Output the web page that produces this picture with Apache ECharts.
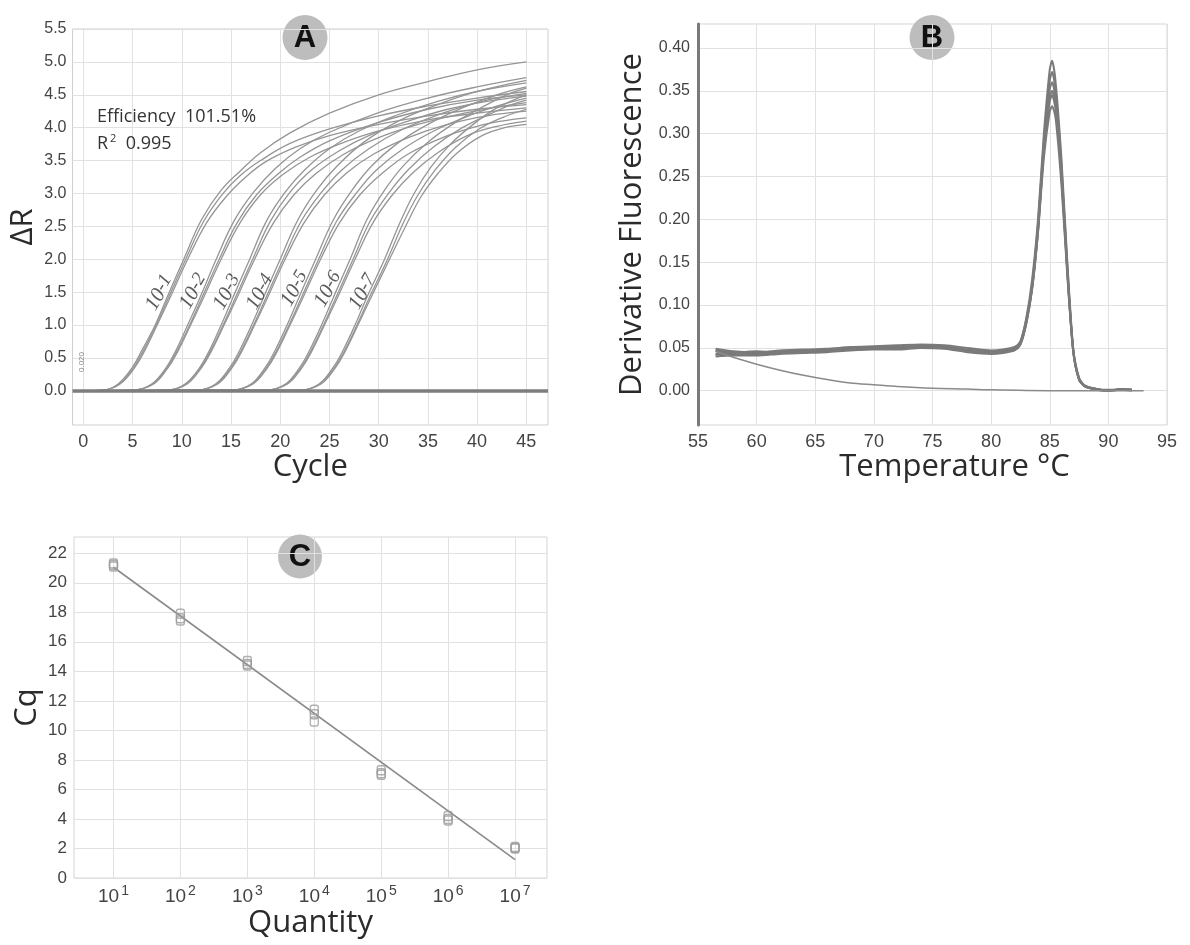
<!DOCTYPE html>
<html><head><meta charset="utf-8">
<script src="https://cdn.jsdelivr.net/npm/echarts@6/dist/echarts.min.js"></script>
<style>html,body{margin:0;padding:0;background:#fff}#c{width:1190px;height:945px}</style>
</head><body><div id="c"></div>
<script>
// ---------- Panel A: amplification plot ----------
const cycleTicks = [0,5,10,15,20,25,30,35,40,45];
const deltaRTicks = [0,0.5,1,1.5,2,2.5,3,3.5,4,4.5,5,5.5];
const dilutionNames = ['-1','-2','-3','-4','-5','-6','-7'];
const dilutionLabelCycle = [7.75,11.2,14.65,18.0,21.5,24.9,28.4];
const dilutionLabelDR = [1.49,1.51,1.5,1.5,1.55,1.54,1.5];

const amp1a = [[0,0],[2,0.01],[3.5,0.1],[5,0.36],[6,0.63],[7.3,1.0],[8.5,1.42],[10.2,2.0],[12,2.6],[14,3.05],[16,3.35],[18,3.62],[21,3.92],[25,4.22],[30,4.5],[35,4.7],[40,4.88],[45,5.0]];
const amp1b = [[0,0],[2,0.01],[3.6,0.1],[5.1,0.35],[6.1,0.61],[7.4,1.0],[8.6,1.4],[10.4,2.0],[12.2,2.57],[14.2,3.0],[16,3.28],[18,3.5],[21,3.76],[25,3.98],[30,4.18],[35,4.33],[40,4.45],[45,4.55]];
const amp1c = [[0,0],[2,0.01],[3.7,0.1],[5.2,0.35],[6.2,0.6],[7.5,1.0],[8.7,1.38],[10.6,2.0],[12.5,2.55],[14.5,2.95],[16.5,3.25],[18.5,3.48],[21.5,3.7],[25,3.88],[30,4.05],[35,4.18],[40,4.28],[45,4.35]];
const amp2a = [[0,0],[5,0.01],[6.9,0.1],[8.4,0.35],[9.4,0.61],[10.6,1.0],[11.8,1.4],[13.5,2.0],[15.3,2.58],[17.3,3.02],[19.5,3.38],[22,3.68],[25,3.93],[30,4.23],[35,4.45],[40,4.62],[45,4.76]];
const amp2b = [[0,0],[5,0.01],[7,0.1],[8.5,0.35],[9.5,0.6],[10.8,1.0],[12,1.4],[13.8,2.0],[15.6,2.55],[17.6,2.98],[19.8,3.3],[22,3.55],[25,3.8],[30,4.08],[35,4.28],[40,4.42],[45,4.5]];
const amp2c = [[0,0],[5,0.01],[7.1,0.1],[8.6,0.35],[9.6,0.6],[10.9,1.0],[12.1,1.38],[14,2.0],[15.9,2.55],[18,2.98],[20.2,3.28],[23,3.55],[26,3.75],[30,3.95],[35,4.12],[40,4.22],[45,4.3]];
const amp3a = [[0,0],[8.5,0.01],[10.3,0.1],[11.8,0.35],[12.8,0.61],[14,1.0],[15.2,1.42],[16.9,2.0],[18.6,2.58],[20.5,3.02],[22.5,3.36],[25,3.68],[28,3.95],[32,4.2],[36,4.4],[40,4.55],[45,4.68]];
const amp3b = [[0,0],[8.5,0.01],[10.4,0.1],[11.9,0.35],[12.9,0.6],[14.2,1.0],[15.4,1.4],[17.2,2.0],[19,2.58],[21,3.02],[23.2,3.36],[26,3.65],[29,3.88],[33,4.1],[37,4.28],[41,4.4],[45,4.48]];
const amp3c = [[0,0],[8.5,0.01],[10.5,0.1],[12,0.35],[13,0.6],[14.3,1.0],[15.5,1.38],[17.4,2.0],[19.3,2.55],[21.4,2.98],[23.6,3.3],[26.5,3.6],[30,3.85],[34,4.05],[38,4.2],[41.5,4.3],[45,4.38]];
const amp4a = [[0,0],[11.5,0.01],[13.4,0.1],[14.9,0.36],[15.9,0.62],[17.1,1.0],[18.3,1.42],[20,2.0],[21.8,2.6],[23.7,3.05],[25.8,3.42],[28.5,3.78],[32,4.1],[36,4.35],[40,4.55],[45,4.72]];
const amp4b = [[0,0],[11.5,0.01],[13.5,0.1],[15,0.35],[16,0.6],[17.3,1.0],[18.5,1.4],[20.3,2.0],[22.1,2.57],[24.1,3.0],[26.2,3.35],[29,3.68],[32.5,3.98],[36.5,4.22],[40.5,4.4],[45,4.52]];
const amp4c = [[0,0],[11.5,0.01],[13.6,0.1],[15.1,0.35],[16.1,0.6],[17.4,1.0],[18.6,1.38],[20.5,2.0],[22.4,2.55],[24.5,2.98],[26.8,3.32],[29.5,3.6],[33,3.85],[37,4.05],[41,4.18],[45,4.25]];
const amp5a = [[0,0],[15,0.01],[17,0.1],[18.5,0.36],[19.5,0.62],[20.7,1.0],[21.9,1.42],[23.6,2.0],[25.4,2.6],[27.3,3.05],[29.3,3.42],[31.8,3.75],[35,4.05],[38.5,4.3],[42,4.5],[45,4.62]];
const amp5b = [[0,0],[15,0.01],[17.1,0.1],[18.6,0.35],[19.6,0.6],[20.9,1.0],[22.1,1.4],[23.9,2.0],[25.7,2.57],[27.7,3.0],[29.8,3.36],[32.5,3.68],[36,3.98],[39.5,4.2],[42.5,4.35],[45,4.45]];
const amp5c = [[0,0],[15,0.01],[17.2,0.1],[18.7,0.35],[19.7,0.6],[21,1.0],[22.2,1.38],[24.1,2.0],[26,2.55],[28.1,2.98],[30.3,3.3],[33,3.6],[36.5,3.85],[40,4.02],[42.5,4.1],[45,4.15]];
const amp6a = [[0,0],[18.5,0.01],[20.5,0.1],[22,0.36],[23,0.62],[24.2,1.0],[25.4,1.42],[27.1,2.0],[28.8,2.6],[30.6,3.05],[32.5,3.42],[35,3.78],[38,4.1],[41,4.35],[43,4.5],[45,4.6]];
const amp6b = [[0,0],[18.5,0.01],[20.6,0.1],[22.1,0.35],[23.1,0.6],[24.4,1.0],[25.6,1.4],[27.4,2.0],[29.1,2.57],[31,3.0],[33,3.36],[35.5,3.7],[38.5,4.0],[41.5,4.22],[43.5,4.35],[45,4.42]];
const amp6c = [[0,0],[18.5,0.01],[20.7,0.1],[22.2,0.35],[23.2,0.6],[24.5,1.0],[25.7,1.38],[27.6,2.0],[29.4,2.55],[31.4,2.98],[33.5,3.32],[36,3.62],[39,3.88],[42,4.02],[45,4.1]];
const amp7a = [[0,0],[22,0.01],[23.9,0.1],[25.4,0.36],[26.4,0.62],[27.6,1.0],[28.8,1.42],[30.6,2.0],[32.2,2.57],[33.6,3.0],[35.3,3.4],[37.3,3.75],[39.6,4.05],[42,4.3],[45,4.5]];
const amp7b = [[0,0],[22,0.01],[24,0.1],[25.5,0.35],[26.5,0.6],[27.8,1.0],[29,1.4],[30.9,2.0],[32.5,2.55],[34,2.98],[35.7,3.35],[37.8,3.7],[40.2,3.98],[42.5,4.15],[45,4.28]];
const amp7c = [[0,0],[22,0.01],[24.1,0.1],[25.6,0.35],[26.6,0.6],[27.9,1.0],[29.1,1.38],[31.1,2.0],[32.8,2.52],[34.3,2.95],[36,3.3],[38,3.62],[40.5,3.88],[42.8,4.0],[45,4.05]];
const ampCurves = [amp1a,amp1b,amp1c,amp2a,amp2b,amp2c,amp3a,amp3b,amp3c,amp4a,amp4b,amp4c,amp5a,amp5b,amp5c,amp6a,amp6b,amp6c,amp7a,amp7b,amp7c];

// ---------- Panel B: melt curves ----------
const tempTicks = [55,60,65,70,75,80,85,90,95];
const derivTicks = [0,0.05,0.10,0.15,0.20,0.25,0.30,0.35,0.40];
const meltTemps = [56.5,58,60,62,64,66,68,70,72,74,76,78,80,81,82,82.5,83,83.5,84,84.5,85,85.2,85.5,86,86.5,87,87.5,88,89,90,91,92];
const melt1 = [0.047,0.045,0.044,0.045,0.047,0.048,0.050,0.051,0.051,0.053,0.052,0.048,0.046,0.047,0.050,0.058,0.085,0.130,0.200,0.300,0.375,0.385,0.360,0.270,0.150,0.050,0.015,0.006,0.002,0.000,0.002,0.001];
const melt2 = [0.043,0.042,0.043,0.044,0.045,0.047,0.049,0.050,0.049,0.051,0.050,0.046,0.044,0.045,0.048,0.055,0.080,0.125,0.195,0.292,0.362,0.372,0.350,0.262,0.145,0.048,0.014,0.005,0.002,0.000,0.001,0.001];
const melt3 = [0.040,0.041,0.041,0.043,0.044,0.045,0.047,0.048,0.048,0.050,0.049,0.045,0.043,0.044,0.047,0.054,0.078,0.120,0.190,0.285,0.352,0.360,0.340,0.255,0.140,0.046,0.013,0.005,0.001,0.000,0.002,0.001];
const melt4 = [0.046,0.043,0.042,0.046,0.046,0.047,0.048,0.049,0.050,0.052,0.051,0.047,0.045,0.046,0.049,0.056,0.082,0.122,0.188,0.280,0.338,0.345,0.328,0.248,0.138,0.047,0.014,0.006,0.002,0.001,0.001,0.001];
const melt5 = [0.049,0.046,0.045,0.047,0.048,0.049,0.051,0.052,0.053,0.054,0.053,0.050,0.047,0.048,0.051,0.057,0.083,0.120,0.185,0.272,0.326,0.332,0.318,0.240,0.134,0.046,0.013,0.005,0.001,0.000,0.001,0.000];
const melt6 = [0.042,0.044,0.046,0.044,0.045,0.046,0.048,0.049,0.050,0.051,0.050,0.047,0.044,0.045,0.048,0.054,0.079,0.119,0.186,0.282,0.343,0.350,0.333,0.252,0.140,0.047,0.013,0.005,0.002,0.000,0.001,0.001];
const meltCurves = [melt1,melt2,melt3,melt4,melt5,melt6];
const ntcTemps = [56.5,58,60,62,64,66,68,70,72,75,78,80,85,90,93];
const ntcValues = [0.046,0.039,0.031,0.024,0.018,0.013,0.009,0.007,0.005,0.003,0.002,0.001,0.000,0.000,0.000];

// ---------- Panel C: standard curve ----------
const quantityTicks = [1e1,1e2,1e3,1e4,1e5,1e6,1e7];
const cqTicks = [0,2,4,6,8,10,12,14,16,18,20,22];
const quantities = [1e1,1e2,1e3,1e4,1e5,1e6,1e7];
const cqRep1 = [21.3,17.9,14.7,11.4,7.3,4.2,2.1];
const cqRep2 = [21.1,17.6,14.5,11.1,7.1,4.0,2.0];
const cqRep3 = [21.2,17.45,14.4,10.6,7.0,3.9,2.05];
const fitQuantity = [1e1,1e7];
const fitCq = [21.05,1.25];

const gridColor = '#e1e1e1';
const tickFont = 'Liberation Sans, Arial, sans-serif';
const nameFont = 'Open Sans, sans-serif';

function baseAxis(extra) {
  return Object.assign({
    axisLine: {show: false, onZero: false},
    splitLine: {show: true, lineStyle: {color: gridColor, width: 1}},
    nameLocation: 'middle',
    nameTextStyle: {fontFamily: nameFont, fontSize: 31, color: '#2b2b2b'}
  }, extra);
}

const series = [];
ampCurves.forEach((c, i) => {
  series.push({
    type: 'line', xAxisIndex: 0, yAxisIndex: 0, data: c,
    smooth: 0.4, showSymbol: false, silent: true,
    lineStyle: {color: '#959595', width: 1.3},
    markLine: i === 0 ? {silent: true, symbol: 'none', label: {show: false},
      lineStyle: {color: '#7d7d7d', width: 3.5, type: 'solid'}, data: [{yAxis: 0}]} : undefined,
    z: 3
  });
});
series.push({
  type: 'scatter', xAxisIndex: 0, yAxisIndex: 0, symbolSize: 0, silent: true,
  data: dilutionNames.map((n, i) => ({value: [dilutionLabelCycle[i], dilutionLabelDR[i]], name: n})),
  label: {show: true, position: 'inside', rotate: 60,
    formatter: p => '{b|10}{s|' + p.name + '}',
    rich: {
      b: {fontFamily: 'Liberation Serif, serif', fontStyle: 'italic', fontSize: 21, color: '#333'},
      s: {fontFamily: 'Liberation Serif, serif', fontStyle: 'italic', fontSize: 19, color: '#333', padding: [0, 0, 3, 0]}
    }},
  z: 6
});
meltCurves.forEach(m => {
  series.push({
    type: 'line', xAxisIndex: 1, yAxisIndex: 1,
    data: meltTemps.map((t, i) => [t, m[i]]),
    smooth: 0.25, showSymbol: false, silent: true,
    lineStyle: {color: '#7a7a7a', width: 2}
  });
});
series.push({
  type: 'line', xAxisIndex: 1, yAxisIndex: 1,
  data: ntcTemps.map((t, i) => [t, ntcValues[i]]),
  smooth: 0.3, showSymbol: false, silent: true,
  lineStyle: {color: '#8a8a8a', width: 1.5}
});
series.push({
  type: 'line', xAxisIndex: 2, yAxisIndex: 2,
  data: fitQuantity.map((q, i) => [q, fitCq[i]]),
  showSymbol: false, silent: true, lineStyle: {color: '#8a8a8a', width: 1.6}
});
[cqRep1, cqRep2, cqRep3].forEach(r => {
  series.push({
    type: 'scatter', xAxisIndex: 2, yAxisIndex: 2,
    data: quantities.map((q, i) => [q, r[i]]),
    symbol: 'roundRect', symbolSize: [8, 9], silent: true,
    itemStyle: {color: 'rgba(255,255,255,0)', borderColor: '#9c9c9c', borderWidth: 1.4},
    z: 4
  });
});

function badge(cx, cy, r, letter) {
  return {
    type: 'group', z: 100, children: [
      {type: 'circle', shape: {cx: cx, cy: cy, r: r}, style: {fill: '#bdbdbd'}},
      {type: 'text', x: cx, y: cy + 1, style: {text: letter, fill: '#111', font: 'bold 31px Liberation Sans, Arial, sans-serif', align: 'center', verticalAlign: 'middle'}}
    ]
  };
}

const option = {
  animation: false,
  backgroundColor: '#fff',
  textStyle: {fontFamily: tickFont},
  grid: [
    {left: 72.5, top: 29, width: 475.5, height: 396, show: true, borderColor: '#cfcfcf', borderWidth: 1},
    {left: 698, top: 24, width: 469, height: 401, show: true, borderColor: '#d5d5d5', borderWidth: 1},
    {left: 74, top: 537, width: 473, height: 341, show: true, borderColor: '#d5d5d5', borderWidth: 1}
  ],
  xAxis: [
    baseAxis({gridIndex: 0, type: 'value', min: -1.1, max: 47.2,
      axisTick: {show: false, customValues: cycleTicks},
      axisLabel: {customValues: cycleTicks, fontSize: 18, color: '#444', margin: 8},
      name: 'Cycle', nameGap: 24}),
    baseAxis({gridIndex: 1, type: 'value', min: 55, max: 95,
      axisTick: {show: false, customValues: tempTicks},
      axisLabel: {customValues: tempTicks, fontSize: 18, color: '#444', margin: 8},
      name: 'Temperature °C', nameGap: 22,
      nameTextStyle: {fontFamily: nameFont, fontSize: 31, color: '#2b2b2b', padding: [0, 0, 0, 44]}}),
    baseAxis({gridIndex: 2, type: 'log', logBase: 10, min: 2.57, max: 3.0e7,
      axisTick: {show: false, customValues: quantityTicks},
      axisLabel: {customValues: quantityTicks, margin: 6,
        formatter: v => '{b|10}{s|' + Math.round(Math.log10(v)) + '}',
        rich: {b: {fontSize: 19, color: '#444', fontFamily: tickFont},
               s: {fontSize: 14, color: '#444', fontFamily: tickFont, padding: [0, 0, 12, 2]}}},
      name: 'Quantity', nameGap: 26})
  ],
  yAxis: [
    baseAxis({gridIndex: 0, type: 'value', min: -0.52, max: 5.5,
      axisTick: {show: false, customValues: deltaRTicks},
      axisLabel: {customValues: deltaRTicks, fontSize: 16, color: '#444', margin: 6, formatter: v => v.toFixed(1)},
      name: 'ΔR', nameGap: 34}),
    baseAxis({gridIndex: 1, type: 'value', min: -0.04, max: 0.428,
      axisLine: {show: true, onZero: false, lineStyle: {color: '#7a7a7a', width: 3}},
      axisTick: {show: false, customValues: derivTicks},
      axisLabel: {customValues: derivTicks, fontSize: 16, color: '#444', margin: 8, formatter: v => v.toFixed(2)},
      name: 'Derivative Fluorescence', nameGap: 50}),
    baseAxis({gridIndex: 2, type: 'value', min: 0, max: 23.1,
      axisTick: {show: false, customValues: cqTicks},
      axisLabel: {customValues: cqTicks, fontSize: 17, color: '#444', margin: 7},
      name: 'Cq', nameGap: 31})
  ],
  graphic: [
    badge(305, 37.5, 22.5, 'A'),
    badge(932, 37.5, 22.5, 'B'),
    badge(300, 556.5, 22, 'C'),
    {type: 'text', x: 97, y: 117, z: 50, style: {text: 'Efficiency  101.51%', font: '18px Open Sans, sans-serif', fill: '#333', verticalAlign: 'middle'}},
    {type: 'text', x: 97, y: 144, z: 50, style: {text: '{a|R}{s|2}{a|  0.995}', verticalAlign: 'middle',
      rich: {a: {font: '18px Open Sans, sans-serif', fill: '#333'}, s: {font: '11px Open Sans, sans-serif', fill: '#333', padding: [0, 0, 10, 2]}}}},
    {type: 'text', x: 82, y: 372, rotation: Math.PI / 2, z: 50, style: {text: '0.020', font: '8px Liberation Sans, Arial', fill: '#888', verticalAlign: 'middle'}}
  ],
  series: series
};

const chart = echarts.init(document.getElementById('c'), null, {renderer: 'canvas'});
chart.setOption(option);
</script>
</body></html>
